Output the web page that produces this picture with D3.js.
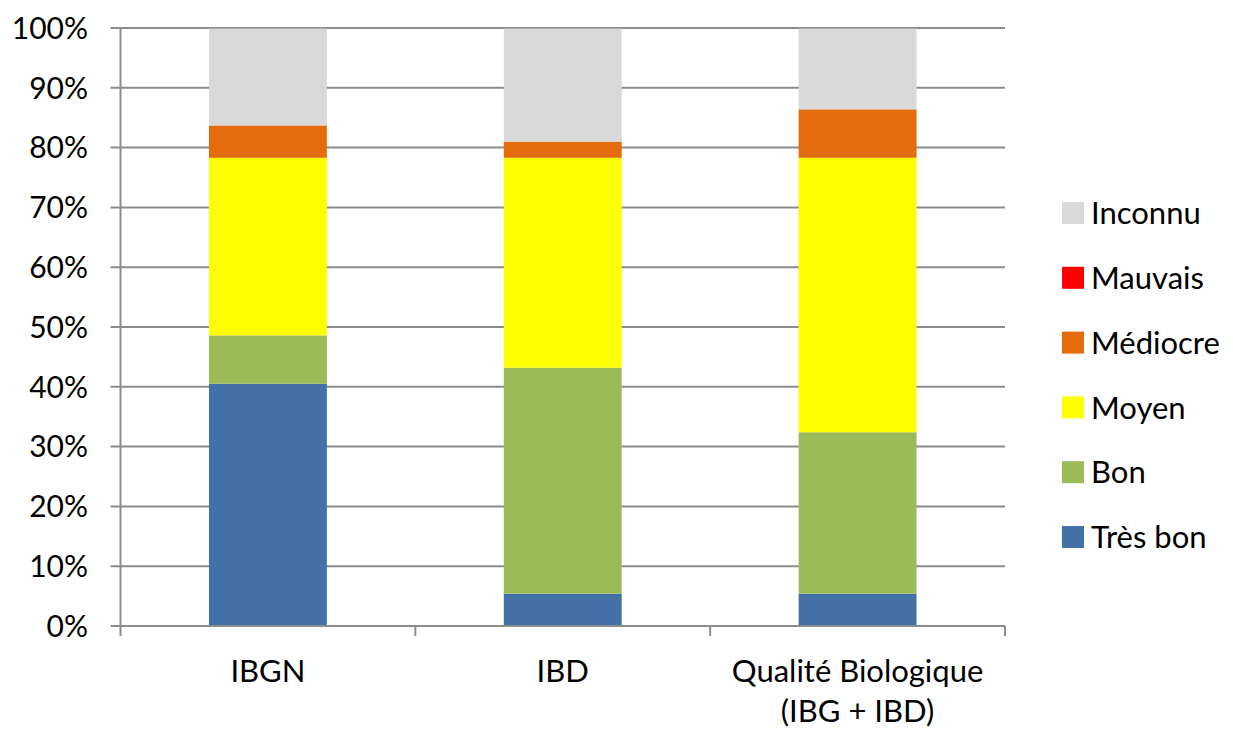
<!DOCTYPE html>
<html><head><meta charset="utf-8">
<script src="https://cdn.jsdelivr.net/npm/d3@7"></script>
<style>body{margin:0;background:#fff}svg{display:block}text{font-family:Lato,"Open Sans",sans-serif;fill:#000}</style>
</head><body>
<svg id="c" width="1233" height="729"></svg>
<script>
const categories = ["IBGN", "IBD", "Qualité Biologique\n(IBG + IBD)"];
const seriesNames = ["Très bon", "Bon", "Moyen", "Médiocre", "Mauvais", "Inconnu"];
const tresBon  = [40.5, 5.4, 5.4];
const bon      = [8.1, 37.8, 27.0];
const moyen    = [29.7, 35.1, 45.9];
const mediocre = [5.4, 2.7, 8.1];
const mauvais  = [0, 0, 0];
const inconnu  = [16.2, 18.9, 13.5];
const colors = ["#4472A8", "#9BBB59", "#FFFF00", "#E46C0A", "#FF0000", "#D9D9D9"];
const yTicks = [0,10,20,30,40,50,60,70,80,90,100];

const values = [tresBon, bon, moyen, mediocre, mauvais, inconnu];
const rows = categories.map((c,i)=>{const o={cat:c}; seriesNames.forEach((s,j)=>o[s]=values[j][i]); return o;});
const stack = d3.stack().keys(seriesNames)(rows);

const svg = d3.select("#c");
const L=120.5, R=1005, T=28, B=626;
const x = d3.scaleBand().domain(categories).range([L,R]).paddingInner(0.6).paddingOuter(0.3);
const xb = d3.scaleBand().domain(categories).range([L,R]);
const y = d3.scaleLinear().domain([0,100]).range([B,T]);
const gray="#8c8c8c";

svg.append("g").selectAll("line").data(yTicks).join("line")
  .attr("x1",L-10).attr("x2",R).attr("y1",d=>y(d)).attr("y2",d=>y(d))
  .attr("stroke",gray).attr("stroke-width",2);
svg.append("g").selectAll("text").data(yTicks).join("text")
  .attr("x",88).attr("y",d=>y(d)).attr("dy","0.36em").attr("text-anchor","end")
  .attr("font-size",30).text(d=>d+"%");

svg.append("g").selectAll("g").data(stack).join("g").attr("fill",(d,i)=>colors[i])
  .selectAll("rect").data(d=>d).join("rect")
  .attr("x",d=>x(d.data.cat)).attr("width",x.bandwidth())
  .attr("y",d=>y(d[1])).attr("height",d=>y(d[0])-y(d[1]));

svg.append("line").attr("x1",L).attr("x2",L).attr("y1",T).attr("y2",B).attr("stroke",gray).attr("stroke-width",2);
svg.append("line").attr("x1",L).attr("x2",R).attr("y1",B).attr("y2",B).attr("stroke",gray).attr("stroke-width",2);
const tickXs = categories.map(c=>xb(c)).concat([R]);
svg.append("g").selectAll("line").data(tickXs).join("line")
  .attr("x1",d=>d).attr("x2",d=>d).attr("y1",B).attr("y2",B+10).attr("stroke",gray).attr("stroke-width",2);

svg.append("g").selectAll("text").data(categories).join("text")
  .attr("x",d=>xb(d)+xb.bandwidth()/2).attr("y",682).attr("text-anchor","middle").attr("font-size",31)
  .each(function(d){const lines=d.split("\n");const t=d3.select(this);
    lines.forEach((l,i)=>t.append("tspan").attr("x",xb(d)+xb.bandwidth()/2).attr("dy",i?40:0).text(l));});

const legOrder = seriesNames.slice().reverse();
const lg = svg.append("g").selectAll("g").data(legOrder).join("g")
  .attr("transform",(d,i)=>`translate(1062,${213+i*64.8})`);
lg.append("rect").attr("x",0).attr("y",-11).attr("width",22).attr("height",22)
  .attr("fill",d=>colors[seriesNames.indexOf(d)]);
lg.append("text").attr("x",29).attr("dy","0.36em").attr("font-size",31).text(d=>d);
</script>
</body></html>
